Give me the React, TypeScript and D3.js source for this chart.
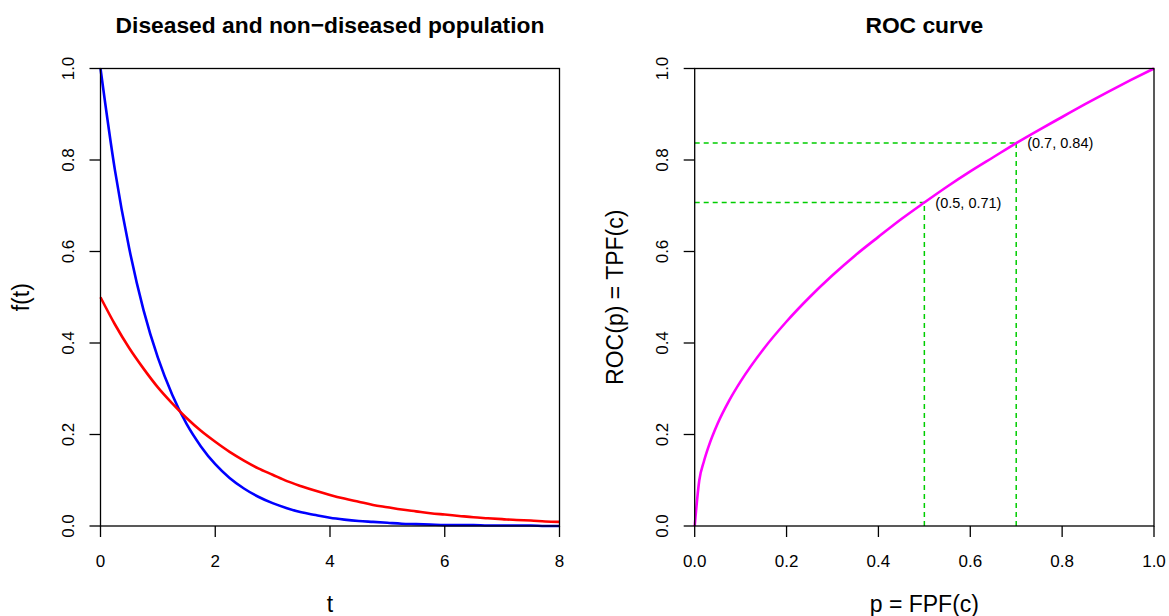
import React from 'react';
import * as d3 from 'd3';

// left panel: densities of the two exponential populations
const tGrid = [0, 0.25, 0.5, 0.75, 1, 1.25, 1.5, 1.75, 2, 2.25, 2.5, 2.75, 3, 3.25, 3.5, 3.75, 4,
  4.25, 4.5, 4.75, 5, 5.25, 5.5, 5.75, 6, 6.25, 6.5, 6.75, 7, 7.25, 7.5, 7.75, 8];
const nonDiseased = [1.0, 0.779, 0.607, 0.472, 0.368, 0.287, 0.223, 0.174, 0.135, 0.105, 0.082, 0.064,
  0.05, 0.039, 0.03, 0.024, 0.018, 0.014, 0.011, 0.009, 0.007, 0.005, 0.004, 0.003, 0.002, 0.002,
  0.002, 0.001, 0.001, 0.001, 0.001, 0.0, 0.0];
const diseased = [0.5, 0.441, 0.389, 0.344, 0.303, 0.268, 0.236, 0.208, 0.184, 0.162, 0.143, 0.126,
  0.112, 0.098, 0.087, 0.077, 0.068, 0.06, 0.053, 0.046, 0.041, 0.036, 0.032, 0.028, 0.025, 0.022,
  0.019, 0.017, 0.015, 0.013, 0.012, 0.01, 0.009];

// right panel: ROC curve
const fpf = [0, 0.01, 0.02, 0.03, 0.05, 0.075, 0.1, 0.15, 0.2, 0.25, 0.3, 0.35, 0.4, 0.45, 0.5,
  0.55, 0.6, 0.65, 0.7, 0.75, 0.8, 0.85, 0.9, 0.95, 1];
const tpf = [0, 0.1, 0.141, 0.173, 0.224, 0.274, 0.316, 0.387, 0.447, 0.5, 0.548, 0.592, 0.632,
  0.671, 0.707, 0.742, 0.775, 0.806, 0.837, 0.866, 0.894, 0.922, 0.949, 0.975, 1.0];
const markP = [0.5, 0.7];
const markRoc = [0.707, 0.837];
const markLabels = ['(0.5, 0.71)', '(0.7, 0.84)'];

const tTicks = [0, 2, 4, 6, 8];
const unitTicks = [0, 0.2, 0.4, 0.6, 0.8, 1.0];

const font = '"Liberation Sans", Arial, Helvetica, sans-serif';
const top = 68.5;
const bottom = 526;
const tickLen = 11;

type Props = {
  x0: number;
  x1: number;
  xDomain: [number, number];
  xTicks: number[];
  xFmt: (v: number) => string;
  title: string;
  xTitle: string;
  yTitle: string;
  children: (x: d3.ScaleLinear<number, number>, y: d3.ScaleLinear<number, number>) => React.ReactNode;
};

const Panel = ({ x0, x1, xDomain, xTicks, xFmt, title, xTitle, yTitle, children }: Props) => {
  const x = d3.scaleLinear().domain(xDomain).range([x0, x1]);
  const y = d3.scaleLinear().domain([0, 1]).range([bottom, top]);
  const fmt = d3.format('.1f');
  const cx = (x0 + x1) / 2;
  const cy = (top + bottom) / 2;
  return (
    <g>
      <text x={cx} y={33} textAnchor="middle" fontSize={22.8} fontWeight="bold">{title}</text>
      {children(x, y)}
      <rect x={x0} y={top} width={x1 - x0} height={bottom - top} fill="none" stroke="#000" strokeWidth={1.3} />
      {xTicks.map(t => (
        <g key={'x' + t}>
          <line x1={x(t)} x2={x(t)} y1={bottom} y2={bottom + tickLen} stroke="#000" strokeWidth={1.3} />
          <text x={x(t)} y={bottom + 41} textAnchor="middle" fontSize={17}>{xFmt(t)}</text>
        </g>
      ))}
      {unitTicks.map(v => (
        <g key={'y' + v}>
          <line x1={x0 - tickLen} x2={x0} y1={y(v)} y2={y(v)} stroke="#000" strokeWidth={1.3} />
          <text transform={`translate(${x0 - 27},${y(v)}) rotate(-90)`} textAnchor="middle" fontSize={17}>{fmt(v)}</text>
        </g>
      ))}
      <text x={cx} y={612} textAnchor="middle" fontSize={23}>{xTitle}</text>
      <text transform={`translate(${x0 - 72},${cy}) rotate(-90)`} textAnchor="middle" fontSize={23}>{yTitle}</text>
    </g>
  );
};

const App = () => {
  const lineT = (vals: number[], x: d3.ScaleLinear<number, number>, y: d3.ScaleLinear<number, number>) =>
    d3.line<number>().x((_, i) => x(tGrid[i])).y(d => y(d)).curve(d3.curveMonotoneX)(vals) || '';

  return (
    <svg width={1169} height={616} style={{ position: 'absolute', left: 0, top: 0, background: '#fff' }}
      fontFamily={font}>
      <Panel x0={100.5} x1={559.5} xDomain={[0, 8]} xTicks={tTicks} xFmt={d3.format('d')}
        title="Diseased and non−diseased population" xTitle="t" yTitle="f(t)">
        {(x, y) => (
          <g fill="none" strokeWidth={2.6}>
            <path d={lineT(nonDiseased, x, y)} stroke="#0000ff" />
            <path d={lineT(diseased, x, y)} stroke="#ff0000" />
          </g>
        )}
      </Panel>
      <Panel x0={694.7} x1={1154} xDomain={[0, 1]} xTicks={unitTicks} xFmt={d3.format('.1f')}
        title="ROC curve" xTitle="p = FPF(c)" yTitle="ROC(p) = TPF(c)">
        {(x, y) => (
          <g>
            {markP.map((p, i) => (
              <g key={p} stroke="#00cd00" strokeWidth={1.5} strokeDasharray="5,4">
                <line x1={x(0)} x2={x(p)} y1={y(markRoc[i])} y2={y(markRoc[i])} />
                <line x1={x(p)} x2={x(p)} y1={y(0)} y2={y(markRoc[i])} />
              </g>
            ))}
            <path fill="none" stroke="#ff00ff" strokeWidth={2.6}
              d={d3.line<number>().x((_, i) => x(fpf[i])).y(d => y(d)).curve(d3.curveMonotoneX)(tpf) || ''} />
            {markP.map((p, i) => (
              <text key={'l' + p} x={x(p) + 11} y={y(markRoc[i]) + 5} fontSize={14.5}>{markLabels[i]}</text>
            ))}
          </g>
        )}
      </Panel>
    </svg>
  );
};

export default App;
